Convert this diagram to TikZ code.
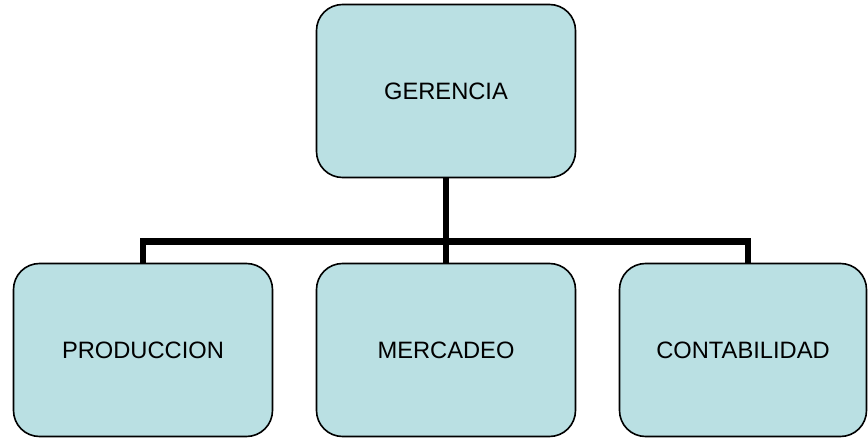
\documentclass[tikz,border=0pt]{standalone}
\usepackage{fontspec}
\setmainfont{Liberation Sans}
\definecolor{boxfill}{RGB}{186,224,227}
\tikzset{
  unit/.style={draw=black, line width=1.6pt, fill=boxfill, rounded corners=26pt,
    minimum width=259pt, minimum height=173pt, inner sep=0pt,
    font=\fontsize{23.7pt}{28pt}\selectfont},
  link/.style={line width=6.5pt, line cap=butt, line join=miter}
}
\begin{document}
\begin{tikzpicture}[x=1pt,y=-1pt]
  \useasboundingbox (0,0) rectangle (868,438);
  \node[unit] (ger) at (446,91) {GERENCIA};
  \node[unit] (pro) at (143,350) {PRODUCCION};
  \node[unit] (mer) at (446,350) {MERCADEO};
  \node[unit, minimum width=247pt] (con) at (743,350) {CONTABILIDAD};
  % junction on the horizontal bus and the drop point onto the right box
  \coordinate (bus) at (446,241.5);
  \coordinate (contop) at (748,263.5);
  \draw[link] (ger.south) -- (bus);
  \draw[link] (pro.north) -- (pro.north |- bus) -- (contop |- bus) -- (contop);
  \draw[link] (bus) -- (mer.north);
\end{tikzpicture}
\end{document}
